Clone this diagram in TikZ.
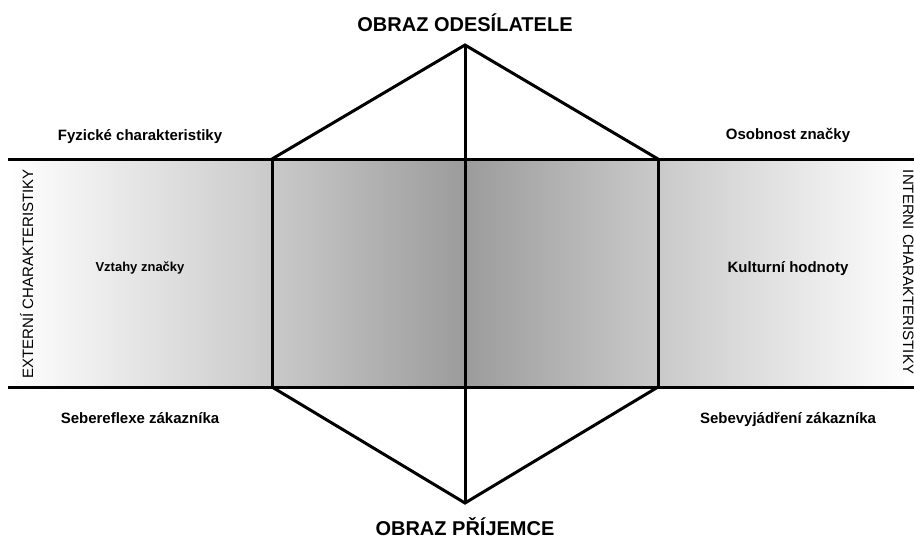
\documentclass[tikz,border=0pt]{standalone}
\usepackage{fontspec}
\setmainfont{Liberation Sans}
\usetikzlibrary{positioning}
\definecolor{rimgray}{gray}{0.79}
\definecolor{coregray}{gray}{0.61}

\begin{document}
\begin{tikzpicture}[
    x=1pt, y=-1pt,
    edge/.style={line width=3pt, line join=miter},
    title/.style={font=\bfseries\fontsize{20}{24}\selectfont, anchor=base},
    facet/.style={font=\bfseries\fontsize{15}{18}\selectfont, anchor=base},
    side/.style={font=\fontsize{15}{18}\selectfont, anchor=base}
    ]
    \useasboundingbox (0,0) rectangle (914,541);

    % prism corners
    \coordinate (top) at (465,45);
    \coordinate (bot) at (465,503);
    \coordinate (tl) at (272,159);
    \coordinate (tc) at (465,159);
    \coordinate (tr) at (658,159);
    \coordinate (bl) at (272,387);
    \coordinate (bc) at (465,387);
    \coordinate (br) at (658,387);
    \coordinate (lt) at (8,159);
    \coordinate (lb) at (8,387);
    \coordinate (rt) at (914,159);
    \coordinate (rb) at (914,387);

    % shaded band
    \shade[left color=white, right color=rimgray] (lt) rectangle (bl);
    \shade[left color=rimgray, right color=coregray] (tl) rectangle (bc);
    \shade[left color=coregray, right color=rimgray] (tc) rectangle (br);
    \shade[left color=rimgray, right color=white] (tr) rectangle (rb);

    \draw[edge] (lt) -- (rt);
    \draw[edge] (lb) -- (rb);
    \draw[edge] (tl) -- (bl);
    \draw[edge] (tr) -- (br);
    \draw[edge] (tl) -- (top) -- (tr);
    \draw[edge] (bl) -- (bot) -- (br);
    \draw[edge] (top) -- (bot);

    \node[title] (sender) at (465,31) {OBRAZ ODESÍLATELE};
    \node[title] (receiver) at (465,535) {OBRAZ PŘÍJEMCE};

    \node[facet] (physique) at (140,140) {Fyzické charakteristiky};
    \node[facet] (personality) at (788,139) {Osobnost značky};
    \node[facet, font=\bfseries\fontsize{13}{16}\selectfont] (relation) at (140,271) {Vztahy značky};
    \node[facet] (culture) at (788,272) {Kulturní hodnoty};
    \node[facet] (reflection) at (140,423) {Sebereflexe zákazníka};
    \node[facet] (selfimage) at (788,423) {Sebevyjádření zákazníka};

    \node[side, rotate=90] (external) at (33,274) {EXTERNÍ CHARAKTERISTIKY};
    \node[side, rotate=-90] (internal) at (903,272) {INTERNÍ CHARAKTERISTIKY};

  \end{tikzpicture}
\end{document}
